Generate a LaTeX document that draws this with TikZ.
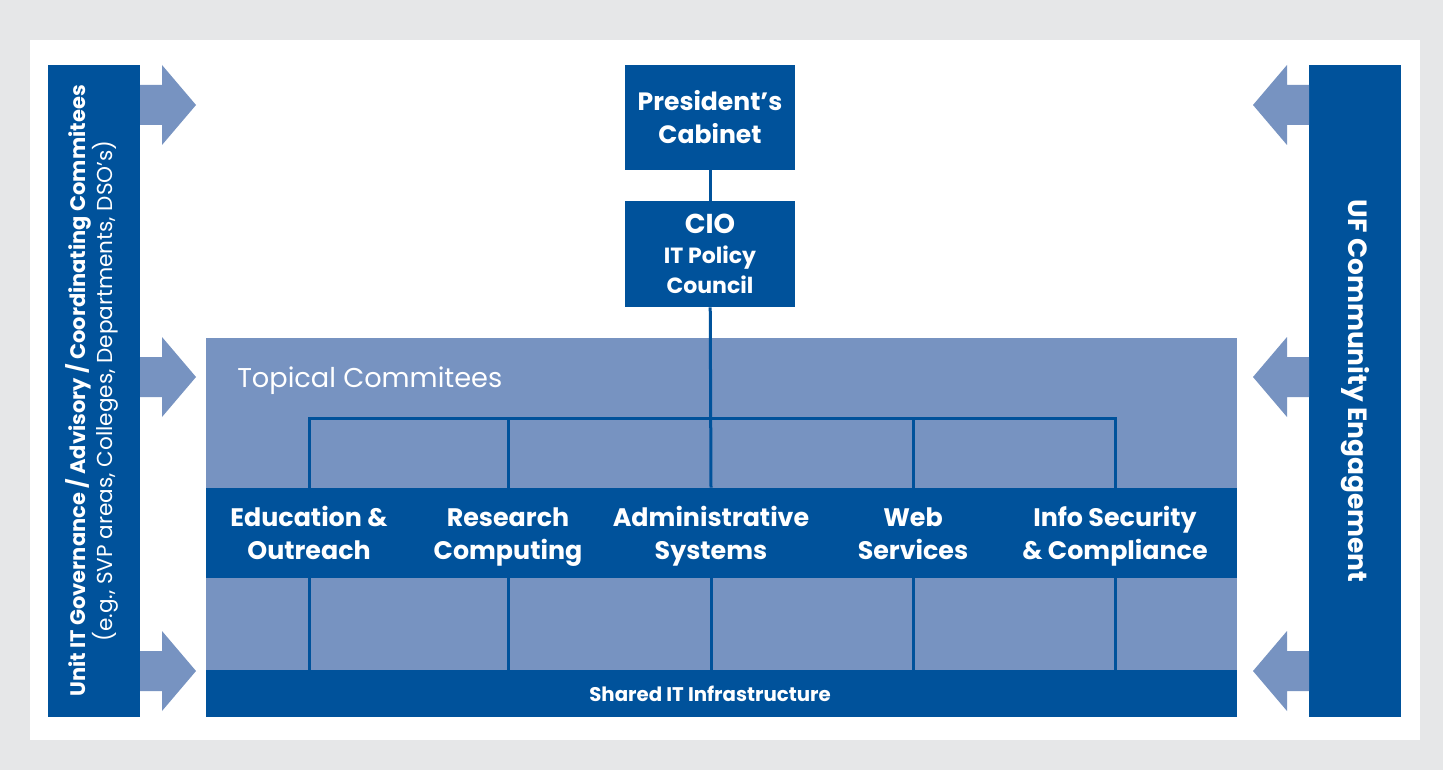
\documentclass[tikz,border=0pt]{standalone}
\usepackage{fontspec}
\setmainfont{Poppins}
\usetikzlibrary{positioning}
\definecolor{ufdark}{HTML}{00529B}
\definecolor{uflight}{HTML}{7793C1}
\definecolor{ufgray}{HTML}{E6E7E8}
\tikzset{
  darkbox/.style={fill=ufdark,text=white,align=center,inner sep=0pt},
  lightbox/.style={fill=uflight,inner sep=0pt},
  tree/.style={draw=ufdark,line width=2.25pt},
  topic/.style={text=white,align=center,inner sep=0pt,
    font=\bfseries\fontsize{19}{25}\selectfont},
}
\begin{document}
\begin{tikzpicture}[x=0.75pt,y=-0.75pt]
	\fill[ufgray] (0,0) rectangle (1443,770);
	\fill[white] (30,40) rectangle (1420,740);

	\node[darkbox,minimum width=69pt,minimum height=489pt] (unit) at(94,391) {};
	\node[text=white,align=center,inner sep=0pt,rotate=90] (unittext) at(92,391)
	  {\bfseries\fontsize{15.75}{21}\selectfont Unit IT Governance / Advisory / Coordinating Commitees\\
	   \mdseries\fontsize{16.2}{22}\selectfont (e.g., SVP areas, Colleges, Departments, DSO's)};
	\node[darkbox,rotate=-90,minimum width=489pt,minimum height=69pt,
	  font=\bfseries\fontsize{19.8}{24}\selectfont] (comm) at(1355,391) {UF Community Engagement};

	\foreach \y in {105,377,671}{
	  \fill[uflight] (140,\y-20) -- ++(22,0) -- ++(0,-20) -- ++(34,40) -- ++(-34,40) -- ++(0,-20) -- ++(-22,0) -- cycle;
	  \fill[uflight] (1309,\y-20) -- ++(-22,0) -- ++(0,-20) -- ++(-34,40) -- ++(34,40) -- ++(0,-20) -- ++(22,0) -- cycle;
	}

	\node[lightbox,minimum width=773.25pt,minimum height=249pt] (panel) at(721.5,504) {};
	\node[anchor=west,text=white,inner sep=0pt,font=\fontsize{20.4}{24}\selectfont] (ptitle) at(237,381) {Topical Commitees};
	\node[darkbox,minimum width=773.25pt,minimum height=67.5pt] (band) at(721.5,533) {};
	\node[darkbox,minimum width=773.25pt,minimum height=35.25pt] (infra) at(721.5,693.5) {};
	\node[text=white,inner sep=0pt,font=\bfseries\fontsize{14.8}{16}\selectfont] (infratext) at(710,693.5) {Shared IT Infrastructure};

	\node[darkbox,minimum width=127.5pt,minimum height=78.75pt,
	  font=\bfseries\fontsize{18.8}{25}\selectfont] (pres) at(710,117.5) {\rule{0pt}{22pt}President's\\Cabinet\strut};
	\node[darkbox,minimum width=127.5pt,minimum height=79.5pt,
	  font=\bfseries\fontsize{16.5}{22.5}\selectfont] (cio) at(710,254)
	  {{\fontsize{20.5}{24}\selectfont CIO}\\IT Policy\\Council};

	\node[topic] (edu) at(309,536) {Education \&\strut\\Outreach\strut};
	\node[topic] (res) at(508,536) {Research\strut\\Computing\strut};
	\node[topic] (adm) at(711,536) {Administrative\strut\\Systems\strut};
	\node[topic] (web) at(913,536) {Web\strut\\Services\strut};
	\node[topic] (sec) at(1115,536) {Info Security\strut\\\& Compliance\strut};

	\coordinate (branch) at(711,418);

	\draw[tree] (pres) -- (cio);
	\draw[tree] (cio) -- (adm |- band.north);
	\draw[tree] (edu |- band.north) -- (edu |- branch) -- (sec |- branch) -- (sec |- band.north);
	\foreach \n in {res,web}
	  \draw[tree] (\n |- band.north) -- (\n |- branch);
	\foreach \n in {edu,res,adm,web,sec}
	  \draw[tree] (\n |- band.south) -- (\n |- infra.north);
\end{tikzpicture}
\end{document}
